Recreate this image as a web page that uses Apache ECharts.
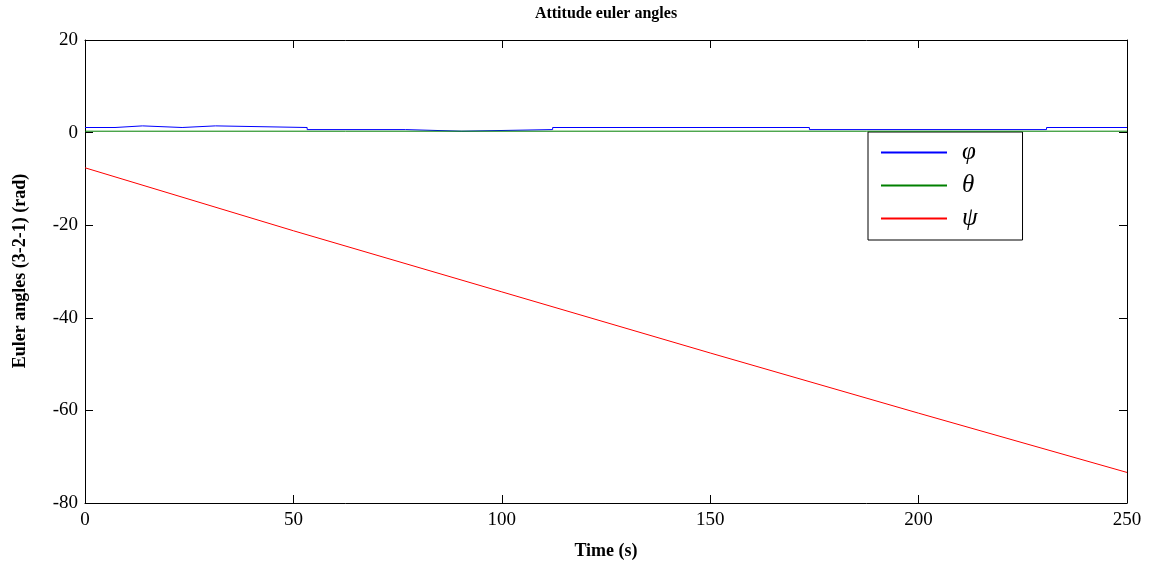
<!DOCTYPE html>
<html>
<head>
<meta charset="utf-8">
<script src="https://cdn.jsdelivr.net/npm/echarts@6/dist/echarts.min.js"></script>
<style>
  html, body { margin: 0; padding: 0; background: #fff; }
  #chart { width: 1154px; height: 569px; }
</style>
</head>
<body>
<div id="chart"></div>
<script>
// Roll angle: piecewise-constant levels, each value holds from its time onward
const phiTimes  = [0, 7.2, 13.8, 23.3, 31.3, 53.3, 76.9, 90.4, 112.2, 173.8, 230.7, 250];
const phiValues = [1.1, 1.45, 1.1, 1.45, 1.1, 0.65, 0.3, 0.65, 1.1, 0.65, 1.1, 1.1];

// Pitch angle stays flat
const thetaTimes  = [0, 250];
const thetaValues = [0.3, 0.3];

// Yaw angle drifts steadily downward
const psiTimes  = [0, 50, 100, 150, 200, 250];
const psiValues = [-7.6, -21.2, -34.4, -47.6, -60.6, -73.4];

const xTicks = [0, 50, 100, 150, 200, 250];
const yTicks = [-80, -60, -40, -20, 0, 20];

const seriesNames = ['\u03C6', '\u03B8', '\u03C8'];
const seriesColors = ['#0000ff', '#008000', '#ff0000'];

const pairs = (xs, ys) => xs.map((x, i) => [x, ys[i]]);

// Sample-and-hold path: each level is kept until the next time, then jumps
function heldPath(xs, ys) {
  const out = [];
  for (let i = 0; i < xs.length; i++) {
    if (i > 0) out.push([xs[i], ys[i - 1]]);
    out.push([xs[i], ys[i]]);
  }
  return out;
}

const serif = '"Liberation Serif", "DejaVu Serif", serif';
const grid = { left: 85, right: 27, top: 40, bottom: 66 };
const plotCenterX = grid.left + (1154 - grid.left - grid.right) / 2;

const baseAxis = {
  axisLine: { show: true, onZero: false, lineStyle: { color: '#000', width: 1 } },
  axisTick: { show: true, inside: true, length: 8, lineStyle: { color: '#000' } },
  splitLine: { show: false }
};

const chart = echarts.init(document.getElementById('chart'), null, { renderer: 'canvas' });

chart.setOption({
  animation: false,
  backgroundColor: '#fff',
  grid: grid,
  xAxis: [
    Object.assign({}, baseAxis, {
      type: 'value', min: xTicks[0], max: xTicks[xTicks.length - 1], interval: 50,
      position: 'bottom',
      axisLabel: { color: '#000', fontFamily: serif, fontSize: 19, margin: 8 }
    }),
    Object.assign({}, baseAxis, {
      type: 'value', min: xTicks[0], max: xTicks[xTicks.length - 1], interval: 50,
      position: 'top', axisLabel: { show: false }
    })
  ],
  yAxis: [
    Object.assign({}, baseAxis, {
      type: 'value', min: yTicks[0], max: yTicks[yTicks.length - 1], interval: 20,
      position: 'left',
      axisLabel: { color: '#000', fontFamily: serif, fontSize: 19, margin: 7 }
    }),
    Object.assign({}, baseAxis, {
      type: 'value', min: yTicks[0], max: yTicks[yTicks.length - 1], interval: 20,
      position: 'right', axisLabel: { show: false }
    })
  ],
  legend: {
    orient: 'vertical',
    left: 868,
    top: 132,
    padding: [8, 45, 9, 13],
    itemGap: 8,
    itemWidth: 66,
    itemHeight: 2,
    icon: 'rect',
    borderColor: '#000',
    borderWidth: 1,
    borderRadius: 0,
    backgroundColor: '#fff',
    textStyle: {
      fontFamily: serif, fontStyle: 'italic', fontSize: 25, color: '#000',
      lineHeight: 24, height: 24, padding: [0, 0, 0, 10]
    },
    data: seriesNames
  },
  series: [
    {
      name: seriesNames[0], type: 'line', showSymbol: false,
      data: heldPath(phiTimes, phiValues),
      lineStyle: { color: seriesColors[0], width: 1 }, itemStyle: { color: seriesColors[0] },
      z: 3
    },
    {
      name: seriesNames[1], type: 'line', showSymbol: false,
      data: pairs(thetaTimes, thetaValues),
      lineStyle: { color: seriesColors[1], width: 1 }, itemStyle: { color: seriesColors[1] },
      z: 4
    },
    {
      name: seriesNames[2], type: 'line', showSymbol: false,
      data: pairs(psiTimes, psiValues),
      lineStyle: { color: seriesColors[2], width: 1 }, itemStyle: { color: seriesColors[2] },
      z: 2
    }
  ],
  graphic: [
    {
      type: 'text', x: plotCenterX, y: 14,
      style: { text: 'Attitude euler angles', font: 'bold 16px ' + serif, fill: '#000', textAlign: 'center', textVerticalAlign: 'middle' },
      silent: true
    },
    {
      type: 'text', x: plotCenterX, y: 551,
      style: { text: 'Time (s)', font: 'bold 18px ' + serif, fill: '#000', textAlign: 'center', textVerticalAlign: 'middle' },
      silent: true
    },
    {
      type: 'text', x: 20, y: 271, rotation: Math.PI / 2,
      style: { text: 'Euler angles (3-2-1) (rad)', font: 'bold 18px ' + serif, fill: '#000', textAlign: 'center', textVerticalAlign: 'middle' },
      silent: true
    }
  ]
});
</script>
</body>
</html>
